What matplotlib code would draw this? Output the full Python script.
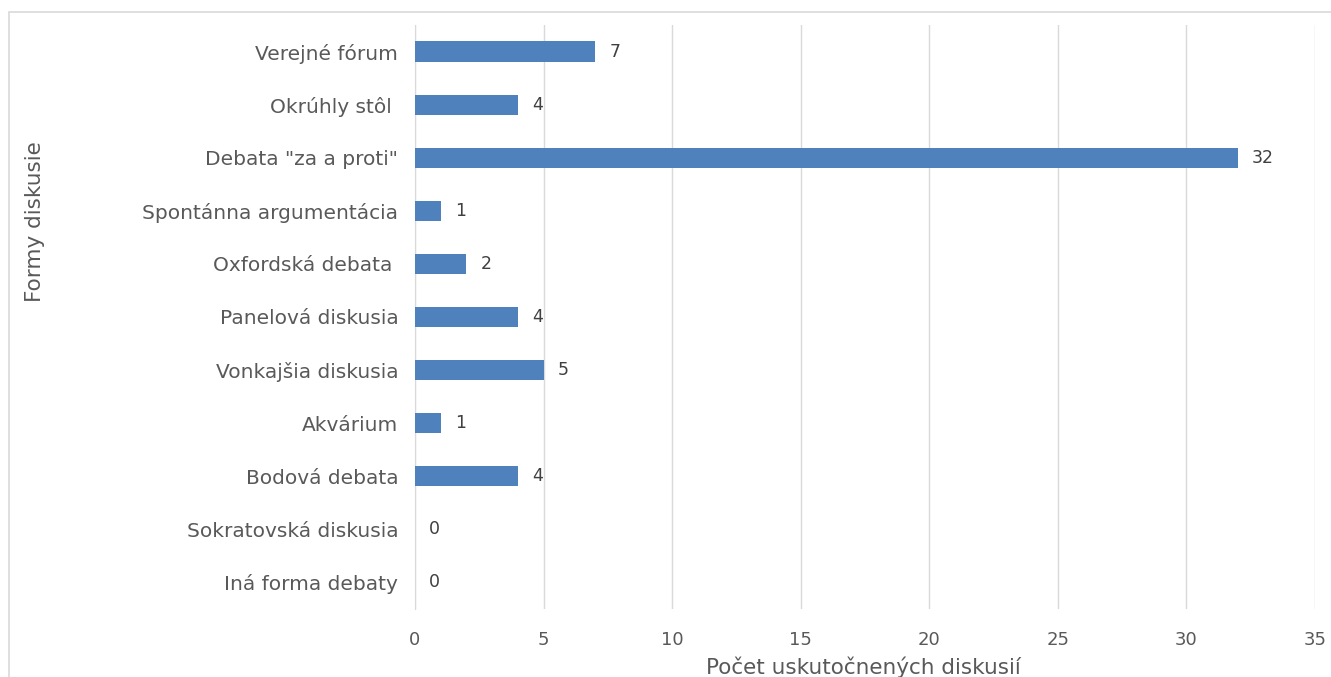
import matplotlib.pyplot as plt
from matplotlib.patches import Rectangle

plt.rcParams['font.family'] = ['DejaVu Sans']

categories = ['Verejné fórum', 'Okrúhly stôl ', 'Debata "za a proti"',
              'Spontánna argumentácia', 'Oxfordská debata ', 'Panelová diskusia',
              'Vonkajšia diskusia', 'Akvárium', 'Bodová debata',
              'Sokratovská diskusia', 'Iná forma debaty']
counts = [7, 4, 32, 1, 2, 4, 5, 1, 4, 0, 0]
xticks = [0, 5, 10, 15, 20, 25, 30, 35]

W, H = 1331, 677
fig = plt.figure(figsize=(W / 100, H / 100), dpi=100)
ax = fig.add_axes([415 / W, 1 - 609 / H, 900 / W, 584 / H])

# chart border
fig.patches.append(Rectangle((9 / W, -0.05), 1.2, 1 - 12 / H + 0.05,
                             transform=fig.transFigure, fill=False,
                             edgecolor='#d9d9d9', linewidth=1.2))

pos = list(range(len(categories)))
ax.barh(pos, counts, height=0.38, color='#4f81bd', zorder=3)
for p, v in zip(pos, counts):
    ax.text(v + 0.55, p, str(v), va='center', ha='left', fontsize=12.5,
            color='#404040')

ax.set_ylim(len(categories) - 0.5, -0.5)
ax.set_xlim(0, 35)
ax.set_yticks(pos)
ax.set_yticklabels(categories, fontsize=14.5, color='#595959')
ax.set_xticks(xticks)
ax.set_xticklabels([str(t) for t in xticks], fontsize=13, color='#595959')
ax.tick_params(axis='y', length=0, pad=12)
ax.tick_params(axis='x', length=0, pad=16)
ax.grid(axis='x', color='#d9d9d9', linewidth=1, zorder=0)
for s in ['top', 'right', 'bottom']:
    ax.spines[s].set_visible(False)
ax.spines['left'].set_color('#d9d9d9')

fig.text(35 / W, 1 - 222 / H, 'Formy diskusie', rotation=90, ha='center',
         va='center', fontsize=15.5, color='#595959')
fig.text(863 / W, 1 - 667 / H, 'Počet uskutočnených diskusií', ha='center',
         va='center', fontsize=15.5, color='#595959')

fig.savefig('out.png', dpi=100)
